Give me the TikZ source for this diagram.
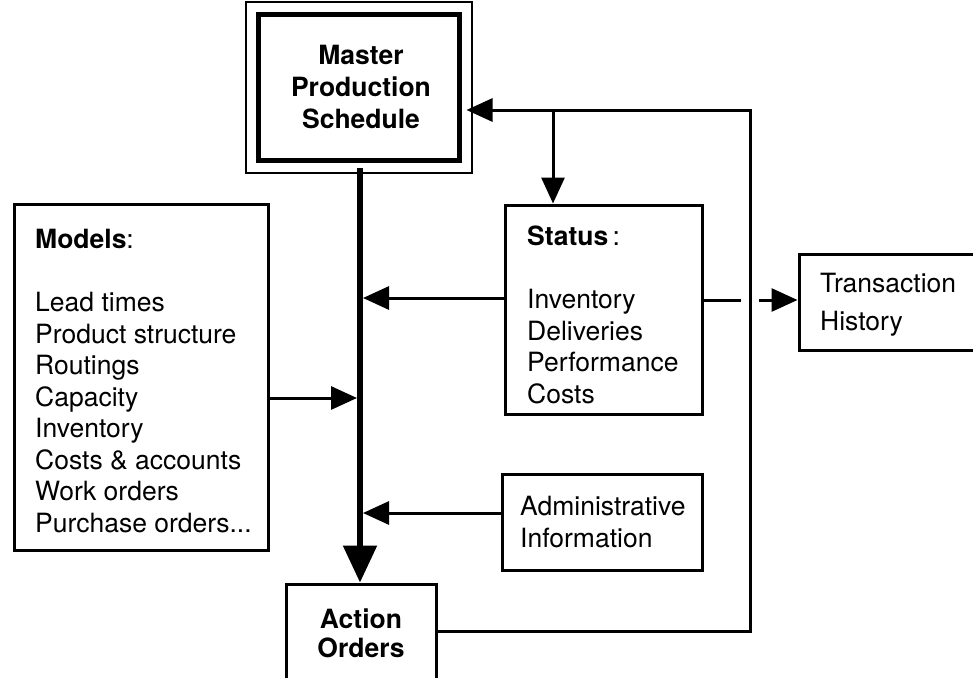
\documentclass[tikz,border=0pt]{standalone}
\usepackage{fontspec}
\setmainfont{TeX Gyre Heros}
\usetikzlibrary{arrows.meta}
\begin{document}
\begin{tikzpicture}[x=1pt,y=-1pt,
  box/.style={draw, line width=3pt, inner sep=0pt},
  txt/.style={font=\fontsize{26.5pt}{31.5pt}\selectfont, inner sep=0pt, align=left, anchor=base west},
  ctxt/.style={font=\fontsize{26.5pt}{31.5pt}\selectfont\bfseries, inner sep=0pt, align=center, anchor=base},
  arr/.style={line width=3pt, -{Triangle[length=26pt,width=23pt]}},
  spineline/.style={line width=5.5pt, -{Triangle[length=37pt,width=33pt]}},
  feed/.style={line width=3pt}]
\useasboundingbox (0,0) rectangle (973,677);
\clip (0,0) rectangle (973,677);

% boxes
\node[box, line width=5pt, outer sep=7pt, minimum width=201pt, minimum height=146pt] (mps) at (359,87.5) {};
\draw[line width=2pt] ([shift={(-5.5pt,5.5pt)}]mps.north west) rectangle ([shift={(5.5pt,-5.5pt)}]mps.south east);
\node[box, minimum width=254pt, minimum height=346pt] (models) at (141,377) {};
\node[box, minimum width=197pt, minimum height=209pt] (status) at (603.5,309.5) {};
\node[box, minimum width=200pt, minimum height=96pt] (admin) at (602,522) {};
\node[box, minimum width=202pt, minimum height=96pt] (trans) at (900,302) {};
\node[box, minimum width=150pt, minimum height=136pt] (action) at (361,652) {};

% texts (anchored at the baseline of their last line)
\node[ctxt] (mpstxt) at (361,128) {Master\\[0.5pt]Production\\[0.5pt]Schedule};
\node[txt] (modelstxt) at (35,532) {\textbf{Models}:\\[31.5pt]Lead times\\Product structure\\Routings\\Capacity\\Inventory\\Costs \& accounts\\Work orders\\Purchase orders...};
\node[txt] (statustxt) at (527,403) {\textbf{Status}\,:\\[31.5pt]Inventory\\Deliveries\\Performance\\Costs};
\node[txt] (admintxt) at (520,547) {Administrative\\Information};
\node[txt] (transtxt) at (820,330) {Transaction\\[6.5pt]History};
\node[ctxt] (actiontxt) at (361,657) {Action\\[-2.5pt]Orders};

% spine edges
\coordinate (spineL) at (357,0);
\coordinate (spineR) at (363,0);
\coordinate (branch) at (553,110);
\coordinate (fbtop) at (750,110);

% main flow
\draw[spineline] (mps.south -| 360,0) -- (action.north -| 360,0);
\draw[arr] ([yshift=11.5pt]status.west) -- ([yshift=11.5pt]status.west -| spineR);
\draw[arr] ([yshift=-21pt]models.east) -- ([yshift=-21pt]models.east -| spineL);
\draw[arr] ([yshift=9pt]admin.west) -- ([yshift=9pt]admin.west -| spineR);

% status to transaction history, passing under the feedback line
\draw[arr] ([yshift=9.5pt]status.east) -- ([yshift=9.5pt]status.east -| trans.west);
\fill[white] (741,294) rectangle (759,306);

% feedback from action orders to the schedule and status
\draw[feed, -{Triangle[length=26pt,width=23pt]}] ([yshift=21pt]action.east) -| (fbtop) -- (mps.east |- fbtop);
\draw[arr] (branch) -- (branch |- status.north);
\end{tikzpicture}
\end{document}
